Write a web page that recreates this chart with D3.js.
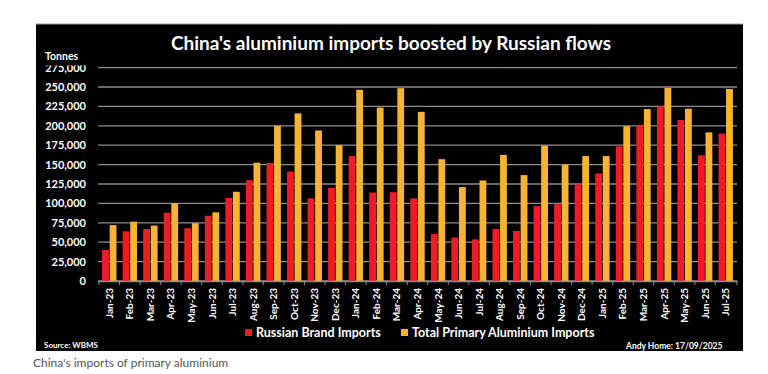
<!DOCTYPE html>
<html>

<head>
  <title>China aluminium imports</title>
  <style>
    body { margin: 0; background: #fff; }
    svg text { font-family: Lato, "Open Sans", sans-serif; }
  </style>
</head>

<body>
  <svg id="svg"></svg>

  <script src="https://d3js.org/d3.v7.min.js"></script>

  <script>
    // months Jan-23 .. Jul-25
    let months = ["Jan-23", "Feb-23", "Mar-23", "Apr-23", "May-23", "Jun-23", "Jul-23", "Aug-23", "Sep-23",
      "Oct-23", "Nov-23", "Dec-23", "Jan-24", "Feb-24", "Mar-24", "Apr-24", "May-24", "Jun-24", "Jul-24",
      "Aug-24", "Sep-24", "Oct-24", "Nov-24", "Dec-24", "Jan-25", "Feb-25", "Mar-25", "Apr-25", "May-25",
      "Jun-25", "Jul-25"];

    let russian = [40000, 64000, 67000, 88000, 68000, 84000, 107000, 130000, 152000,
      141000, 106500, 120000, 161000, 114000, 114500, 106500, 60500, 56000, 53500,
      67000, 64500, 96500, 99000, 124500, 138500, 173500, 200500, 225000, 207500,
      162000, 190000];

    let total = [72000, 76500, 71500, 100000, 74500, 88500, 115000, 152500, 200000,
      216000, 194000, 175000, 246500, 223500, 248500, 218000, 157000, 121000, 129500,
      162500, 136500, 174500, 150000, 161000, 161000, 199500, 221500, 249000, 222000,
      191500, 247500];

    let yTicks = d3.range(0, 275001, 25000);

    let seriesNames = ["Russian Brand Imports", "Total Primary Aluminium Imports"];
    let colors = ["#ee1c25", "#f8b332"];

    let width = 768, height = 374;
    let plot = { left: 98, right: 737, top: 67.6, bottom: 281 };

    let svg = d3.select("#svg").attr("width", width).attr("height", height);

    // black panel
    svg.append("rect")
      .attr("x", 36).attr("y", 24)
      .attr("width", 707).attr("height", 327)
      .attr("fill", "#000");

    svg.append("line")
      .attr("x1", 36).attr("x2", 743).attr("y1", 24).attr("y2", 24)
      .attr("stroke", "#999").attr("stroke-width", 1);

    let x0 = d3.scaleBand().domain(months).range([plot.left, plot.right])
      .paddingInner(0.3).paddingOuter(0.2);
    let x1 = d3.scaleBand().domain([0, 1]).range([0, x0.bandwidth()]).paddingInner(0.1);
    let y = d3.scaleLinear().domain([0, 275000]).range([plot.bottom, plot.top]);

    // gridlines
    svg.append("g")
      .selectAll("line")
      .data(yTicks)
      .join("line")
      .attr("x1", plot.left).attr("x2", plot.right)
      .attr("y1", d => y(d)).attr("y2", d => y(d))
      .attr("stroke", "#8c8c8c").attr("stroke-width", 1.3);

    // y axis labels
    let yAxis = svg.append("g")
      .attr("transform", `translate(${plot.left - 9}, 0)`)
      .call(d3.axisLeft(y).tickValues(yTicks).tickSize(0).tickFormat(d3.format(",")));
    yAxis.select(".domain").remove();
    yAxis.selectAll("text")
      .attr("fill", "#fff").attr("font-size", 11).attr("font-weight", "bold");

    // bars
    let groups = svg.append("g")
      .selectAll("g")
      .data(months.map((m, i) => ({ month: m, vals: [russian[i], total[i]] })))
      .join("g")
      .attr("transform", d => `translate(${x0(d.month)}, 0)`);

    groups.selectAll("rect")
      .data(d => d.vals)
      .join("rect")
      .attr("x", (d, i) => x1(i))
      .attr("width", x1.bandwidth())
      .attr("y", d => y(d))
      .attr("height", d => y(0) - y(d))
      .attr("fill", (d, i) => colors[i]);

    // x axis
    let xAxis = svg.append("g")
      .attr("transform", `translate(0, ${plot.bottom})`)
      .call(d3.axisBottom(x0).tickSize(0).tickSizeOuter(0));
    xAxis.select(".domain").attr("stroke", "#8c8c8c").attr("stroke-width", 1.3);
    xAxis.selectAll("text")
      .attr("fill", "#fff").attr("font-size", 10).attr("font-weight", "bold")
      .attr("transform", "rotate(-90)")
      .attr("text-anchor", "end")
      .attr("x", -7).attr("y", 0).attr("dy", "0.35em");

    // boundary ticks
    let step = x0.step();
    xAxis.append("g")
      .selectAll("line")
      .data(months.concat(["end"]))
      .join("line")
      .attr("x1", (d, i) => i < months.length ? x0(d) + x0.bandwidth() / 2 - step / 2 : plot.right)
      .attr("x2", (d, i) => i < months.length ? x0(d) + x0.bandwidth() / 2 - step / 2 : plot.right)
      .attr("y1", 0).attr("y2", 4)
      .attr("stroke", "#8c8c8c").attr("stroke-width", 1);

    // Tonnes label; its box hides the top of the highest tick label, as in the source
    svg.append("rect")
      .attr("x", 40).attr("y", 48).attr("width", 52).attr("height", 17.5)
      .attr("fill", "#000");
    svg.append("text")
      .attr("x", 45).attr("y", 59.5)
      .attr("fill", "#fff").attr("font-size", 10.5).attr("font-weight", "bold")
      .text("Tonnes");

    // title
    svg.append("text")
      .attr("x", 391).attr("y", 50)
      .attr("text-anchor", "middle")
      .attr("fill", "#fff").attr("font-size", 19).attr("font-weight", "bold")
      .text("China's aluminium imports boosted by Russian flows");

    // legend
    let legendX = [245, 401];
    let legend = svg.append("g")
      .selectAll("g")
      .data(seriesNames)
      .join("g")
      .attr("transform", (d, i) => `translate(${legendX[i]}, 329)`);
    legend.append("rect")
      .attr("width", 7).attr("height", 7)
      .attr("fill", (d, i) => colors[i]);
    legend.append("text")
      .attr("x", 11).attr("y", 7.5)
      .attr("fill", "#fff").attr("font-size", 12.5).attr("font-weight", "bold")
      .text(d => d);

    // footer notes
    svg.append("text")
      .attr("x", 44).attr("y", 347.5)
      .attr("fill", "#fff").attr("font-size", 8).attr("font-weight", "bold")
      .text("Source: WBMS");
    svg.append("text")
      .attr("x", 626).attr("y", 348.5)
      .attr("fill", "#fff").attr("font-size", 8.5).attr("font-weight", "bold")
      .text("Andy Home: 17/09/2025");

    // caption
    svg.append("text")
      .attr("x", 33).attr("y", 366.5)
      .attr("fill", "#555").attr("font-size", 12)
      .text("China's imports of primary aluminium");
  </script>
</body>

</html>
